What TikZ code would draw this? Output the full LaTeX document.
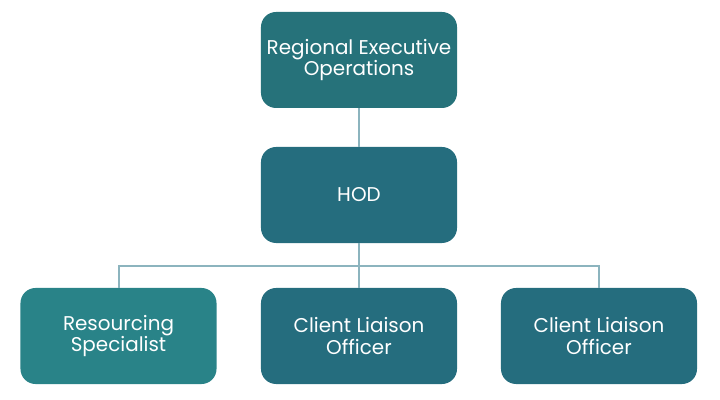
\documentclass[tikz,border=0pt]{standalone}
\usepackage{fontspec}
\setmainfont{Poppins}
\definecolor{boxtop}{HTML}{26727A}
\definecolor{boxmid}{HTML}{256D7E}
\definecolor{boxres}{HTML}{298388}
\definecolor{linkclr}{HTML}{8CB4BE}
\begin{document}
\begin{tikzpicture}[x=0.03cm, y=-0.03cm,
    every node/.style={minimum width=5.88cm, minimum height=2.88cm, rounded corners=0.45cm, text=white, align=center, inner sep=0pt, font=\fontsize{17}{18.7}\selectfont},
    link/.style={draw=linkclr, line width=0.06cm}]
        \useasboundingbox (0, 0) rectangle (720, 400);
        % Top level
        \node[fill=boxtop] (reo) at (359, 60) {Regional Executive\\Operations};
        \node[fill=boxmid] (hod) at (359, 195) {HOD};
        
        % Bottom row
        \node[fill=boxres] (res) at (118.5, 336) {Resourcing\\Specialist};
        \node[fill=boxmid] (cloA) at (359, 336) {Client Liaison\\Officer};
        \node[fill=boxmid] (cloB) at (599, 336) {Client Liaison\\Officer};
        \coordinate (bus) at (359, 266);
        
        \draw[link] (reo) -- (hod);
        \draw[link] (hod) -- (cloA);
        \draw[link] (res.north) |- (bus) -| (cloB.north);
    \end{tikzpicture}
\end{document}
